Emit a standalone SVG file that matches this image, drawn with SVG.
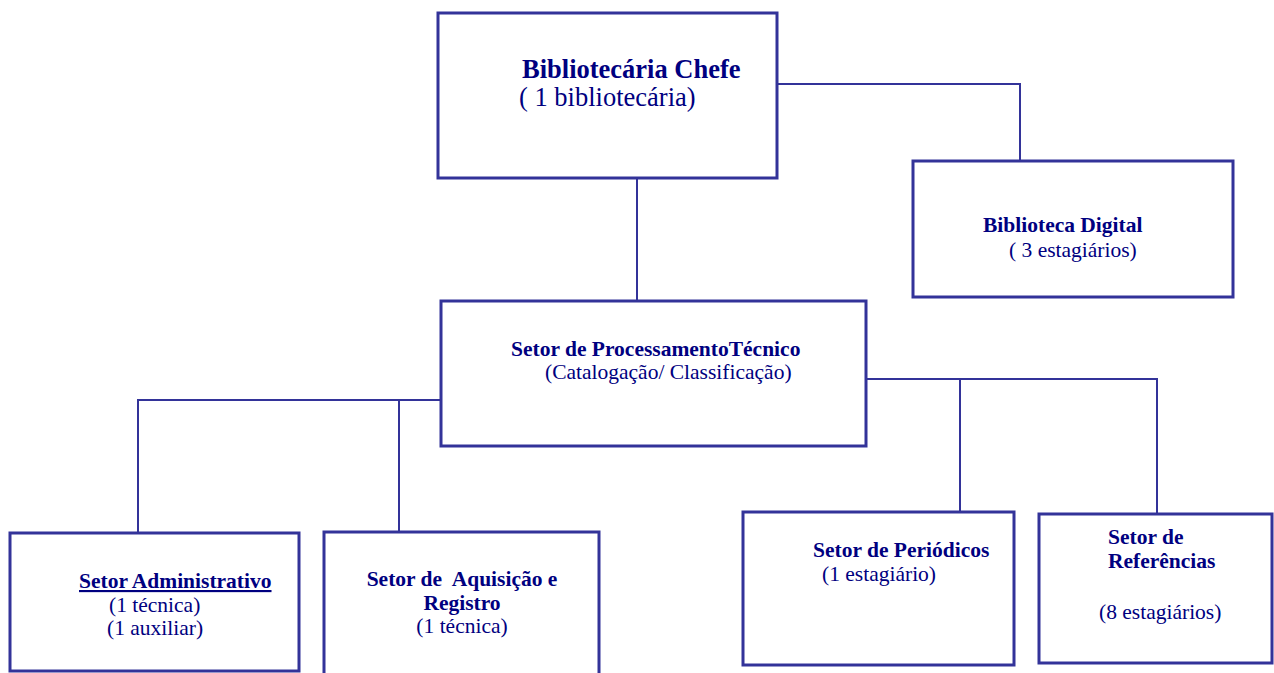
<svg xmlns="http://www.w3.org/2000/svg" width="1274" height="673" viewBox="0 0 1274 673">
<style>
.box{fill:#ffffff;stroke:#333399;stroke-width:3}
.con{fill:none;stroke:#333399;stroke-width:2}
text{font-family:"Liberation Serif","Times New Roman",serif;fill:#000080;font-size:21.5px}
.b{font-weight:bold}
.big{font-size:26.5px}
</style>
<rect width="1274" height="673" fill="#ffffff"/>
<g id="connectors">
<path class="con" d="M777 84 H1020 V161"/>
<path class="con" d="M637 178 V301"/>
<path class="con" d="M441 400 H138 V533"/>
<path class="con" d="M399 400 V532"/>
<path class="con" d="M866 379 H1157 V514"/>
<path class="con" d="M960 379 V512"/>
</g>
<g id="chefe">
<rect class="box" x="438" y="13" width="339" height="165"/>
<text class="b big" x="522" y="78">Bibliotecária Chefe</text>
<text class="big" x="519" y="106">( 1 bibliotecária)</text>
</g>
<g id="digital">
<rect class="box" x="913" y="161" width="320" height="136"/>
<text class="b" x="983" y="232">Biblioteca Digital</text>
<text x="1009" y="257">( 3 estagiários)</text>
</g>
<g id="processamento">
<rect class="box" x="441" y="301" width="425" height="145"/>
<text class="b" x="511" y="356">Setor de ProcessamentoTécnico</text>
<text x="545" y="379">(Catalogação/ Classificação)</text>
</g>
<g id="administrativo">
<rect class="box" x="10" y="533" width="289" height="138"/>
<text class="b" x="79" y="588" text-decoration="underline">Setor Administrativo</text>
<text x="109" y="612">(1 técnica)</text>
<text x="107" y="635">(1 auxiliar)</text>
</g>
<g id="aquisicao">
<rect class="box" x="324" y="532" width="275" height="160"/>
<text class="b" x="462" y="586" text-anchor="middle" xml:space="preserve">Setor de  Aquisição e</text>
<text class="b" x="462" y="610" text-anchor="middle">Registro</text>
<text x="462" y="633" text-anchor="middle">(1 técnica)</text>
</g>
<g id="periodicos">
<rect class="box" x="743" y="512" width="271" height="153"/>
<text class="b" x="813" y="557">Setor de Periódicos</text>
<text x="822" y="581">(1 estagiário)</text>
</g>
<g id="referencias">
<rect class="box" x="1039" y="514" width="233" height="149"/>
<text class="b" x="1108" y="544">Setor de</text>
<text class="b" x="1108" y="568">Referências</text>
<text x="1099" y="619">(8 estagiários)</text>
</g>
</svg>
